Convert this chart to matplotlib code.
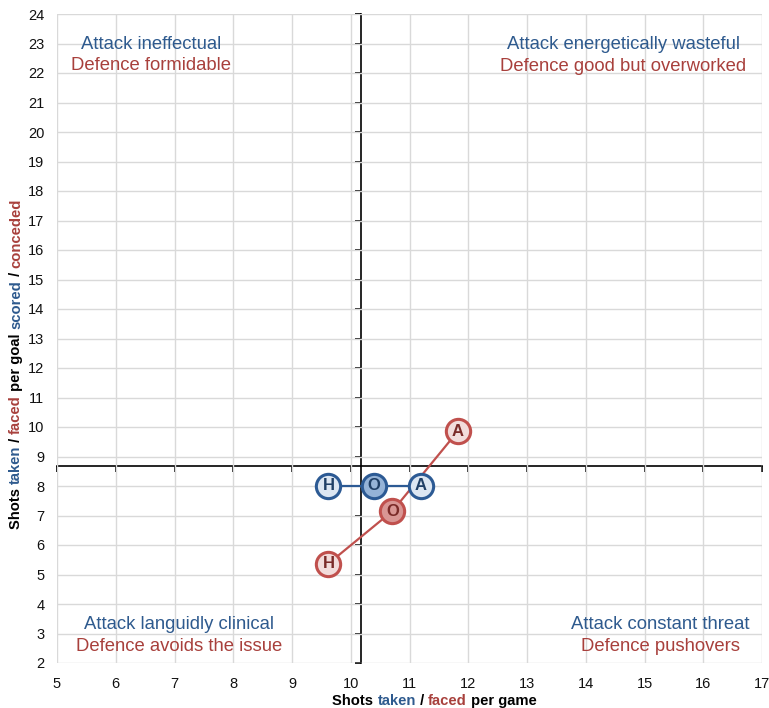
import matplotlib
matplotlib.use("Agg")
import matplotlib.pyplot as plt

plt.rcParams['font.family'] = ['Liberation Sans', 'DejaVu Sans']

# Data
labels = ["H", "O", "A"]
taken_per_game = [9.62, 10.40, 11.19]
scored_per_goal = [8.0, 8.0, 8.0]
faced_per_game = [9.62, 10.71, 11.82]
conceded_per_goal = [5.37, 7.15, 9.85]
cross_x = 10.17
cross_y = 8.67

xticks = list(range(5, 18))
yticks = list(range(2, 25))

BLUE = '#2C5A94'
BLUE_D = '#1F3F66'
RED = '#C0504D'
RED_D = '#7A2A28'
BLUE_TXT = '#2E5A8E'
RED_TXT = '#A8403C'

fig = plt.figure(figsize=(7.69, 7.08), dpi=100)
ax = fig.add_axes([57/769, 1-663/708, (762-57)/769, (663-14)/708])
ax.set_xlim(5, 17)
ax.set_ylim(2, 24)
ax.set_xticks(xticks)
ax.set_yticks(yticks)
ax.grid(True, color='#D9D9D9', linewidth=1)
ax.set_axisbelow(True)
for s in ax.spines.values():
    s.set_visible(False)
ax.tick_params(length=0, labelsize=10.5, colors='#111111')
ax.tick_params(axis='x', pad=10)
ax.tick_params(axis='y', pad=9)

# crossing axes
sx = ax.secondary_xaxis((cross_y - 2) / 22)
sx.set_xticks(xticks)
sx.tick_params(direction='out', length=4, labelbottom=False, width=1.2,
               color='black')
sx.spines['bottom'].set_linewidth(1.2)
sx.spines['bottom'].set_color('black')
sy = ax.secondary_yaxis((cross_x - 5) / 12)
sy.set_yticks(yticks)
sy.tick_params(direction='out', length=4, labelleft=False, width=1.2,
               color='black')
sy.spines['left'].set_linewidth(1.2)
sy.spines['left'].set_color('black')

def series(xs, ys, edge, fill_light, fill_dark, txt):
    ax.plot(xs, ys, color=edge, linewidth=1.6, zorder=3)
    for lab, x, y in zip(labels, xs, ys):
        fc = fill_dark if lab == 'O' else fill_light
        ax.plot([x], [y], marker='o', markersize=17.5, markerfacecolor=fc,
                markeredgecolor=edge, markeredgewidth=2.2, zorder=4)
        ax.text(x, y, lab, ha='center', va='center', fontsize=12,
                fontweight='bold', color=txt, zorder=5)

series(taken_per_game, scored_per_goal, BLUE, '#DCE6F2', '#95B3D7', BLUE_D)
series(faced_per_game, conceded_per_goal, RED, '#F2DCDB', '#D99694', RED_D)

quads = [
    (6.6, 22.98, 22.27, "Attack ineffectual", "Defence formidable"),
    (14.64, 22.98, 22.23, "Attack energetically wasteful", "Defence good but overworked"),
    (7.08, 3.3, 2.57, "Attack languidly clinical", "Defence avoids the issue"),
    (15.27, 3.3, 2.57, "Attack constant threat", "Defence pushovers"),
]
for x, y1, y2, t1, t2 in quads:
    ax.text(x, y1, t1, ha='center', va='center', fontsize=13.3, color=BLUE_TXT)
    ax.text(x, y2, t2, ha='center', va='center', fontsize=13.3, color=RED_TXT)

# rich x label
parts_x = [("Shots ", 'black'), ("taken", BLUE_TXT), (" / ", 'black'),
           ("faced", RED_TXT), (" per game", 'black')]
fig.canvas.draw()
r = fig.canvas.get_renderer()
props = dict(fontsize=10.6, fontweight='bold')
widths = []
for t, c in parts_x:
    tt = fig.text(0, 0, t, **props)
    widths.append(tt.get_window_extent(r).width)
    tt.remove()
total = sum(widths)
cx = (333 + 536) / 2
xpix = cx - total / 2
for (t, c), w in zip(parts_x, widths):
    fig.text(xpix / 769, 1 - 705 / 708, t, color=c, ha='left', va='baseline', **props)
    xpix += w

parts_y = [("Shots ", 'black'), ("taken", BLUE_TXT), (" / ", 'black'),
           ("faced", RED_TXT), (" per goal ", 'black'), ("scored", BLUE_TXT),
           (" / ", 'black'), ("conceded", RED_TXT)]
heights = []
for t, c in parts_y:
    tt = fig.text(0, 0, t, rotation=90, **props)
    heights.append(tt.get_window_extent(r).height)
    tt.remove()
total = sum(heights)
cy = 1 - 364 / 708
ypix = cy * 708 - total / 2
for (t, c), h in zip(parts_y, heights):
    fig.text(16 / 769, ypix / 708, t, color=c, rotation=90, ha='center',
             va='bottom', rotation_mode='default', **props)
    ypix += h

fig.savefig("out.png", dpi=100)
